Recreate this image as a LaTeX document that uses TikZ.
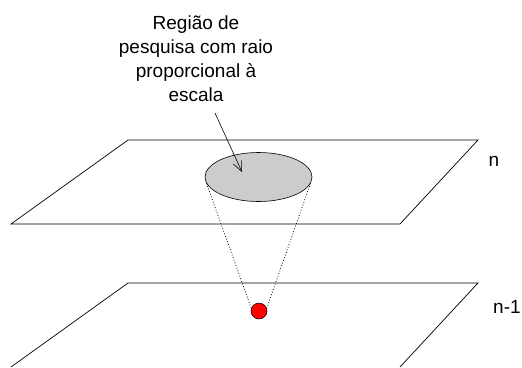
\documentclass[tikz,border=0pt]{standalone}
\usepackage{fontspec}
\setmainfont{Liberation Sans}
\usetikzlibrary{arrows.meta,shapes.geometric}

\begin{document}
\begin{tikzpicture}[x=1pt,y=-1pt,>={Straight Barb[length=10pt,width=9pt]},
  plane/.style={line width=0.7pt,line join=miter},
  lbl/.style={font=\fontsize{19}{24}\selectfont,inner sep=0pt}]
  \useasboundingbox (0,0) rectangle (522,367);

  % Scale n
  \draw[plane] (128,140) -- (478,140) -- (400,224) -- (11,224) -- cycle;
  \node[lbl] (ln) at (494,161) {n};

  % Scale n-1 (bottom edge falls outside)
  \draw[plane] (11,367) -- (128,283) -- (478,283) -- (400,367);
  \node[lbl,anchor=west] (lm) at (493,307) {n-1};

  % Search region and point
  \node[ellipse,draw,line width=0.6pt,fill=black!20,minimum width=107pt,
    minimum height=49pt,inner sep=0pt] (region) at (258.5,177) {};
  \node[circle,draw,line width=0.5pt,fill=red,minimum size=16pt,inner sep=0pt]
    (pt) at (259,311) {};
  \draw[dotted,line width=0.8pt] (region.187) -- (pt.160);
  \draw[dotted,line width=0.8pt] (region.-7) -- (pt.20);

  % Caption
  \node[lbl,align=center] (cap) at (196,59)
    {Região de\\pesquisa com raio\\proporcional à\\escala};
  \coordinate (tip) at (242,172);
  \draw[->,line width=0.6pt] (215,113) -- (tip);
\end{tikzpicture}
\end{document}
